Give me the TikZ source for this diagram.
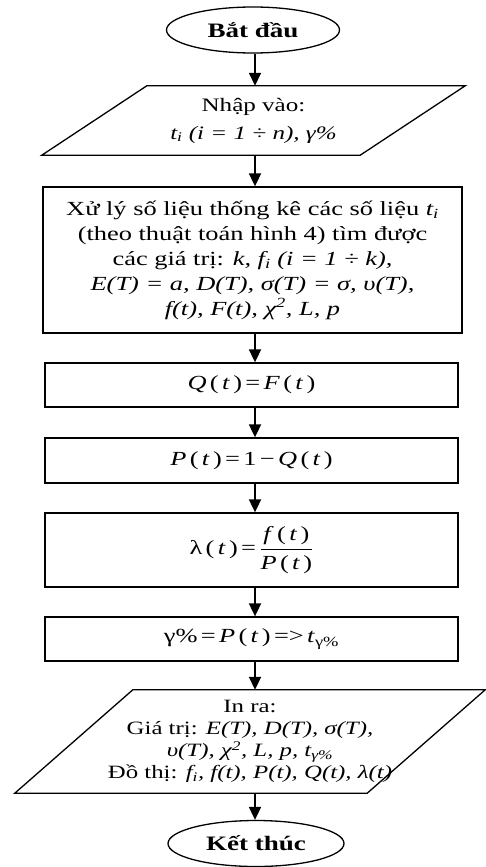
\documentclass[tikz,border=0pt]{standalone}
\usepackage{fontspec}
\setmainfont[FakeStretch=1.32]{Liberation Serif}
\usetikzlibrary{arrows.meta,shapes.geometric}
\newcommand\myit[1]{\textit{#1}}
\begin{document}
\begin{tikzpicture}[x=1pt,y=-1pt,
  base/.style={align=center, inner sep=0pt, font=\fontsize{20}{25}\selectfont},
  term/.style={base, ellipse, draw, line width=1.3pt, minimum width=173pt, minimum height=46pt, font=\fontsize{20.5}{25}\selectfont\bfseries},
  proc/.style={base, draw, line width=1.3pt, minimum width=413pt},
  io/.style={base},
  ioline/.style={line width=1.3pt, line join=miter},
  arr/.style={line width=1.8pt, -{Triangle[length=13pt,width=12pt]}}
]
\useasboundingbox (0,0) rectangle (485,867);
\coordinate (ax) at (255,0);

\node[term] (start) at (253,30) {Bắt đầu};

\node[io, minimum width=423pt, minimum height=69pt, font=\fontsize{19}{28}\selectfont] (in) at (253.5,120.5)
  {Nhập vào:\\ \myit{t\textsubscript{i} (i = 1 ÷ n), γ\%}};
\draw[ioline] ([xshift=105pt]in.north west) -- (in.north east) -- ([xshift=-105pt]in.south east) -- (in.south west) -- cycle;

\node[proc, minimum width=419pt, minimum height=146pt] (proc) at (252.5,260)
  {Xử lý số liệu thống kê các số liệu \myit{t\textsubscript{i}}\\
   (theo thuật toán hình 4) tìm được\\
   các giá trị: \myit{k, f\textsubscript{i} (i = 1 ÷ k),}\\
   \myit{E(T) = a, D(T), σ(T) = σ, υ(T),}\\
   \myit{f(t), F(t), χ\textsuperscript{2}, L, p}};

\node[proc, minimum height=44pt] (q) at (251.5,385)
  {\myit{Q}\,(\,\myit{t}\,)\,=\,\myit{F}\,(\,\myit{t}\,)};

\node[proc, minimum height=45pt] (p) at (251.5,460.5)
  {\myit{P}\,(\,\myit{t}\,)\,=\,1\,−\,\myit{Q}\,(\,\myit{t}\,)};

\node[proc, minimum height=74pt] (lam) at (251.5,550)
  {λ\,(\,\myit{t}\,)\,=\,$\displaystyle\frac{\mbox{\myit{f}\,(\,\myit{t}\,)}}{\mbox{\myit{P}\,(\,\myit{t}\,)}}$};

\node[proc, minimum height=44pt] (gam) at (251.5,639)
  {γ\%\,=\,\myit{P}\,(\,\myit{t}\,)\,=>\,\myit{t}\textsubscript{γ\%}};

\node[io, minimum width=470pt, minimum height=103pt, font=\fontsize{18.8}{22}\selectfont] (out) at (250,741.5)
  {In ra:\\
   Giá trị: \myit{E(T), D(T), σ(T),}\\
   \myit{υ(T), χ\textsuperscript{2}, L, p, t\textsubscript{γ\%}}\\
   Đồ thị: \myit{f\textsubscript{i}, f(t), P(t), Q(t), λ(t)}};
\draw[ioline] ([xshift=118pt]out.north west) -- (out.north east) -- ([xshift=-118pt]out.south east) -- (out.south west) -- cycle;

\node[term, minimum width=176pt] (end) at (256,843.5) {Kết thúc};

\draw[arr] (start.south -| ax) -- (in.north -| ax);
\draw[arr] (in.south -| ax) -- (proc.north -| ax);
\draw[arr] (proc.south -| ax) -- (q.north -| ax);
\draw[arr] (q.south -| ax) -- (p.north -| ax);
\draw[arr] (p.south -| ax) -- (lam.north -| ax);
\draw[arr] (lam.south -| ax) -- (gam.north -| ax);
\draw[arr] (gam.south -| ax) -- (out.north -| ax);
\draw[arr] (out.south -| ax) -- (end.north -| ax);
\end{tikzpicture}
\end{document}
